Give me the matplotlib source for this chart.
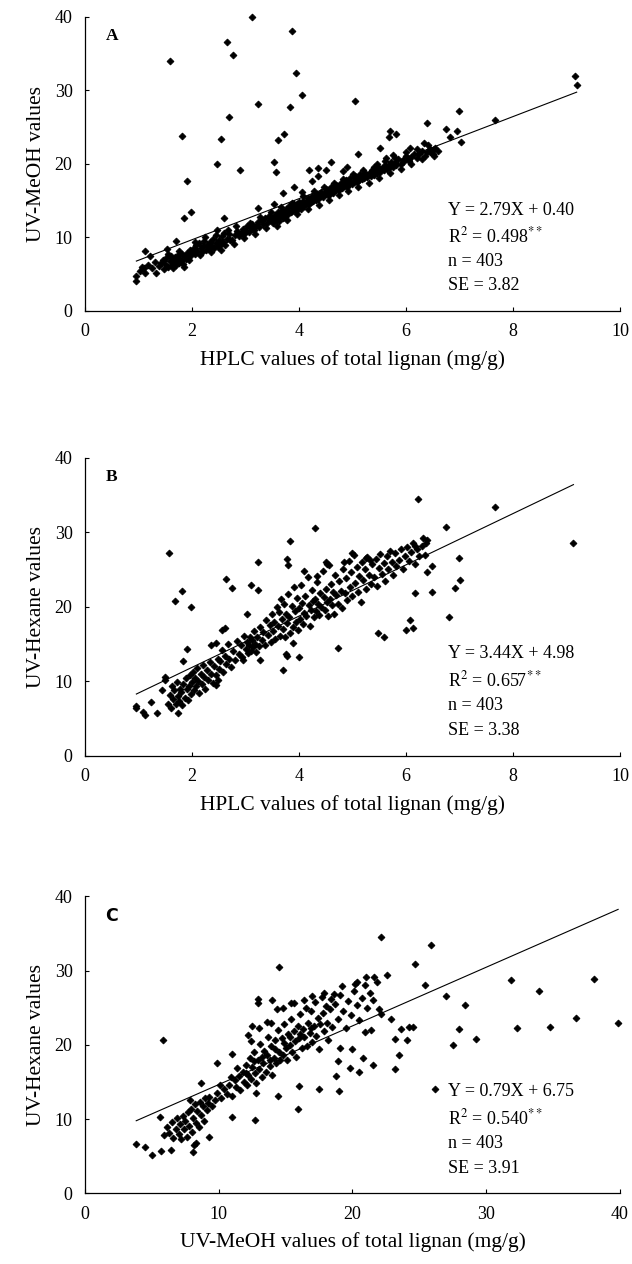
import numpy as np
import matplotlib
matplotlib.use("Agg")
import matplotlib.pyplot as plt

plt.rcParams['font.family'] = ['Liberation Serif', 'DejaVu Serif']
plt.rcParams['mathtext.fontset'] = 'stix'

# panel A: HPLC (x) vs UV-MeOH (y)
A_PTS = [
    (3.12, 39.9), (3.86, 38.0), (2.65, 36.6), (2.76, 34.8), (1.58, 34.0), (9.15, 32.0),
    (9.19, 30.7), (3.94, 32.4), (4.06, 29.3), (3.23, 28.1), (5.04, 28.5), (3.83, 27.7),
    (2.69, 26.3), (6.99, 27.2), (7.66, 26.0), (6.40, 25.5), (1.81, 23.8), (2.54, 23.4),
    (3.60, 23.3), (3.72, 24.1), (5.70, 24.4), (5.82, 24.0), (5.68, 23.6), (6.75, 24.7),
    (6.96, 24.5), (6.82, 23.6), (7.03, 23.0), (5.51, 22.2), (2.46, 20.0), (3.54, 20.2),
    (3.57, 18.9), (2.90, 19.1), (1.91, 17.7), (4.60, 20.2), (5.11, 21.3), (1.99, 13.5),
    (1.85, 12.7), (2.59, 12.6), (3.24, 14.0), (3.90, 16.9), (4.19, 19.1), (4.36, 19.4),
    (4.50, 19.2), (3.70, 16.0), (3.54, 14.6), (1.13, 8.2), (1.22, 7.5), (0.96, 4.7),
    (0.96, 4.1), (1.07, 6.0), (1.12, 5.1), (1.33, 5.1), (1.48, 5.7), (1.42, 6.5),
    (1.53, 8.4), (1.71, 9.5), (2.47, 11.0), (2.68, 11.0), (2.71, 9.6), (6.34, 22.8),
    (6.07, 22.1), (6.44, 21.6), (6.51, 21.9),
    (4.25, 17.6), (4.35, 18.3), (4.05, 16.2), (5.45, 20.0), (5.62, 20.8), (5.75, 21.2),
    (4.83, 19.0), (4.90, 19.5),
    (1.02, 5.4), (1.10, 5.9), (1.18, 6.3), (1.25, 5.8), (1.30, 6.6), (1.38, 6.1),
    (1.45, 6.9), (1.50, 6.4), (1.52, 7.2), (1.55, 6.0), (1.58, 6.8), (1.60, 7.5),
    (1.62, 6.3), (1.64, 7.0), (1.66, 6.6), (1.68, 7.4), (1.70, 6.2), (1.72, 6.9),
    (1.74, 7.6), (1.76, 6.5), (1.78, 7.1), (1.80, 6.8), (1.82, 7.7), (1.84, 6.4),
    (1.86, 7.3), (1.88, 7.0), (1.90, 7.9), (1.93, 7.2), (1.96, 8.3), (1.98, 7.6),
    (2.00, 8.0), (2.03, 8.6), (2.06, 7.8), (2.08, 8.9), (2.10, 8.2), (2.13, 9.3),
    (2.16, 8.5), (2.18, 8.0), (2.20, 8.8), (2.23, 9.5), (2.26, 8.3), (2.28, 9.0),
    (2.31, 8.6), (2.34, 9.4), (2.37, 8.8), (2.40, 9.8), (2.42, 8.5), (2.45, 9.2),
    (2.48, 8.7), (2.50, 9.6), (2.53, 9.0), (2.56, 10.2), (2.58, 9.4), (2.62, 8.9),
    (2.65, 9.8), (2.70, 10.4), (2.75, 9.7), (2.80, 10.3), (2.85, 10.9), (2.88, 10.2),
    (2.92, 10.6), (2.95, 11.2), (2.98, 10.4), (3.00, 10.8), (3.03, 11.5), (3.06, 10.7),
    (3.10, 11.3), (3.13, 11.8), (3.16, 11.0), (3.20, 11.6), (3.23, 12.1), (3.26, 11.4),
    (3.30, 12.3), (3.33, 11.8), (3.36, 12.6), (3.40, 12.0), (3.43, 12.9), (3.46, 12.3),
    (3.50, 12.7), (3.52, 11.9), (3.55, 13.1), (3.58, 12.5), (3.60, 13.4), (3.62, 12.2),
    (3.65, 12.9), (3.68, 13.6), (3.70, 12.7), (3.72, 13.2), (3.75, 13.9), (3.78, 13.0),
    (3.80, 13.6), (3.82, 14.2), (3.85, 13.4), (3.88, 14.0), (3.90, 14.6), (3.92, 13.7),
    (3.95, 14.3), (3.98, 13.9), (4.00, 14.8), (4.02, 14.1), (4.05, 14.5), (4.08, 15.0),
    (4.10, 14.3), (4.13, 14.8), (4.16, 15.3), (4.18, 14.6), (4.21, 15.1), (4.24, 15.6),
    (4.27, 14.9), (4.30, 15.4), (4.33, 15.9), (4.36, 15.2), (4.39, 15.7), (4.42, 16.2),
    (4.45, 15.5), (4.48, 16.0), (4.51, 16.6), (4.54, 15.8), (4.57, 16.3), (4.60, 16.9),
    (4.63, 16.1), (4.66, 16.6), (4.69, 17.1), (4.72, 16.4), (4.75, 16.9), (4.78, 17.4),
    (4.81, 16.7), (4.84, 17.2), (4.87, 17.8), (4.90, 16.9), (4.93, 17.5), (4.96, 18.1),
    (4.99, 17.3), (5.02, 17.7), (5.05, 18.3), (5.08, 17.5), (5.11, 18.0), (5.14, 18.6),
    (5.17, 17.9), (5.20, 18.3), (5.24, 18.8), (5.28, 18.2), (5.32, 18.7), (5.36, 19.2),
    (5.40, 18.5), (5.44, 19.0), (5.48, 19.5), (5.52, 18.9), (5.56, 19.4), (5.60, 19.9),
    (5.64, 19.3), (5.68, 19.8), (5.72, 20.2), (5.76, 19.6), (5.80, 20.1), (5.85, 20.6),
    (5.90, 20.0), (5.95, 20.5), (6.00, 21.0), (6.05, 20.4), (6.10, 20.9), (6.15, 21.4),
    (6.20, 20.8), (6.25, 21.3), (6.30, 21.7), (6.35, 21.1), (6.40, 21.6), (6.45, 22.0),
    (6.50, 21.4), (6.55, 22.1), (6.60, 21.8),
    (3.57, 12.4), (3.64, 13.3), (3.73, 12.9), (3.87, 13.6), (3.96, 14.5), (4.04, 13.9),
    (4.12, 14.6), (4.22, 14.8), (4.31, 15.1), (4.41, 15.6), (4.50, 16.1), (4.58, 15.9),
    (4.67, 16.4), (4.76, 16.6), (4.85, 17.0), (4.94, 17.2), (5.03, 17.5), (5.12, 17.8),
    (5.22, 18.1), (5.34, 18.4), (5.46, 18.8), (5.58, 19.1), (5.70, 19.5), (5.82, 19.8),
    (5.94, 20.2), (6.06, 20.6),
    (1.55, 7.8), (1.65, 5.9), (1.75, 8.1), (1.85, 6.0), (1.95, 6.9), (2.05, 9.4),
    (2.15, 7.6), (2.25, 10.0), (2.35, 8.0), (2.45, 10.3), (2.55, 8.3), (2.60, 10.6),
    (2.78, 9.1), (2.83, 11.5), (2.97, 9.9), (3.08, 12.0), (3.18, 10.5), (3.28, 12.8),
    (3.38, 11.3), (3.48, 13.4), (3.58, 11.6), (3.67, 14.1), (3.77, 12.3), (3.86, 14.7),
    (3.97, 13.2), (4.07, 15.6), (4.17, 13.8), (4.28, 16.3), (4.38, 14.4), (4.47, 16.8),
    (4.56, 15.1), (4.65, 17.4), (4.74, 15.8), (4.83, 18.0), (4.92, 16.3), (5.01, 18.6),
    (5.10, 16.9), (5.20, 19.1), (5.30, 17.4), (5.40, 19.6), (5.50, 18.1), (5.60, 20.4),
    (5.70, 18.8), (5.80, 20.8), (5.90, 19.3), (6.00, 21.6), (6.10, 20.0), (6.20, 22.0),
    (6.30, 20.6), (6.42, 22.5), (6.52, 21.0),
]

# panel B: HPLC (x) vs UV-Hexane (y)
B_PTS = [
    (6.22, 34.5), (7.66, 33.4), (4.29, 30.6), (6.74, 30.7), (3.83, 28.8), (9.13, 28.5),
    (1.57, 27.2), (1.68, 20.8), (1.81, 22.1), (1.99, 20.0), (2.64, 23.7), (2.75, 22.5),
    (3.23, 26.0), (6.17, 28.1), (6.31, 29.2), (6.38, 28.6), (6.99, 26.6), (6.48, 25.5),
    (6.39, 24.6), (7.01, 23.6), (6.92, 22.5), (6.48, 22.0), (6.17, 21.8), (6.81, 18.6),
    (6.07, 18.2), (6.14, 17.1), (6.00, 16.9), (5.48, 16.5), (5.58, 15.9), (4.72, 14.4),
    (3.71, 11.5), (3.75, 13.6), (3.78, 13.4), (4.00, 13.2), (3.27, 12.9), (3.88, 15.1),
    (1.91, 14.3), (1.83, 12.7), (2.93, 13.3), (2.45, 15.1), (2.35, 14.9), (2.62, 17.2),
    (2.56, 16.9), (2.45, 9.5), (2.48, 10.2), (0.96, 6.7), (0.96, 6.35), (1.08, 5.9),
    (1.13, 5.5), (1.24, 7.2), (1.34, 5.7), (1.73, 5.8), (1.49, 10.6), (1.50, 10.2),
    (1.44, 8.8), (3.03, 19.0), (3.11, 22.9), (3.23, 22.2),
    (3.78, 26.4), (3.79, 25.6), (4.09, 24.8), (4.33, 24.1), (4.50, 26.0), (4.53, 25.8),
    (4.84, 26.0), (5.00, 27.2), (5.25, 26.5), (5.32, 26.3),
    (1.55, 7.0), (1.58, 8.2), (1.60, 6.4), (1.62, 9.3), (1.65, 7.6), (1.67, 8.8),
    (1.70, 6.9), (1.72, 9.9), (1.74, 8.0), (1.76, 7.3), (1.78, 9.0), (1.80, 8.5),
    (1.82, 6.8), (1.84, 9.6), (1.86, 7.8), (1.88, 10.4), (1.90, 8.9), (1.92, 7.5),
    (1.94, 9.4), (1.96, 10.8), (1.98, 8.3), (2.00, 9.9), (2.02, 11.3), (2.04, 8.8),
    (2.06, 10.5), (2.08, 9.3), (2.10, 11.8), (2.12, 10.0), (2.14, 8.4), (2.16, 11.0),
    (2.18, 9.6), (2.20, 12.2), (2.22, 10.6), (2.25, 9.0), (2.28, 11.5), (2.30, 10.1),
    (2.33, 12.6), (2.36, 11.0), (2.39, 9.8), (2.42, 12.0), (2.45, 10.8), (2.48, 13.0),
    (2.50, 11.6), (2.53, 12.7), (2.56, 14.2), (2.58, 11.2), (2.61, 13.4), (2.64, 12.3),
    (2.67, 15.0), (2.70, 13.0), (2.73, 11.9), (2.76, 14.1), (2.80, 12.8), (2.84, 15.4),
    (2.88, 13.6), (2.92, 14.8), (2.95, 12.9), (2.98, 16.1), (3.00, 14.3), (3.02, 15.2),
    (3.04, 13.8), (3.06, 14.8), (3.08, 15.9), (3.10, 14.1), (3.12, 15.5), (3.14, 14.6),
    (3.16, 16.7), (3.18, 15.0), (3.20, 13.9), (3.22, 16.0), (3.25, 14.7), (3.28, 17.3),
    (3.30, 15.6), (3.33, 16.6), (3.36, 14.9), (3.39, 18.2), (3.42, 16.2), (3.45, 17.5),
    (3.48, 15.3), (3.50, 19.0), (3.52, 16.8), (3.54, 18.0), (3.56, 15.7), (3.58, 20.0),
    (3.60, 17.4), (3.62, 19.3), (3.64, 16.1), (3.66, 21.0), (3.68, 18.3), (3.70, 17.0),
    (3.72, 20.4), (3.74, 15.9), (3.76, 19.0), (3.78, 17.8), (3.80, 21.7), (3.82, 18.6),
    (3.84, 16.5), (3.86, 20.1), (3.88, 17.3), (3.90, 22.6), (3.92, 19.4), (3.94, 18.0),
    (3.96, 21.2), (3.98, 16.9), (4.00, 19.8), (4.02, 18.4), (4.04, 22.9), (4.06, 20.5),
    (4.08, 17.7), (4.10, 19.1), (4.12, 21.5), (4.14, 18.8), (4.16, 24.0), (4.18, 20.2),
    (4.20, 17.4), (4.22, 19.6), (4.24, 22.2), (4.26, 20.8), (4.28, 18.6), (4.30, 21.0),
    (4.32, 19.4), (4.34, 23.3), (4.36, 20.4), (4.38, 18.9), (4.40, 21.8), (4.42, 20.0),
    (4.44, 24.8), (4.46, 21.3), (4.48, 19.5), (4.50, 22.4), (4.52, 20.6), (4.54, 18.8),
    (4.56, 25.6), (4.58, 21.1), (4.60, 23.0), (4.62, 20.2), (4.64, 22.0), (4.66, 19.0),
    (4.68, 24.3), (4.70, 21.6), (4.72, 20.4), (4.75, 23.5), (4.78, 22.1), (4.80, 19.8),
    (4.83, 25.1), (4.86, 21.9), (4.88, 23.8), (4.90, 20.9), (4.93, 26.2), (4.96, 22.6),
    (4.98, 24.6), (5.00, 21.5), (5.03, 27.0), (5.05, 23.2), (5.08, 25.3), (5.10, 22.0),
    (5.13, 24.1), (5.16, 20.6), (5.18, 26.0), (5.20, 23.6), (5.23, 25.0), (5.26, 22.4),
    (5.28, 26.7), (5.31, 24.3), (5.34, 23.0), (5.37, 25.7), (5.40, 24.0), (5.43, 26.4),
    (5.46, 22.8), (5.49, 25.2), (5.52, 27.1), (5.55, 24.4), (5.58, 25.9), (5.61, 23.4),
    (5.64, 26.8), (5.67, 25.0), (5.70, 27.5), (5.73, 26.0), (5.76, 24.2), (5.79, 27.2),
    (5.82, 25.5), (5.86, 26.3), (5.90, 27.8), (5.94, 25.1), (5.98, 26.8), (6.02, 28.0),
    (6.06, 26.2), (6.10, 27.3), (6.13, 28.5), (6.16, 25.7), (6.20, 27.8), (6.25, 26.8),
    (6.30, 28.2), (6.35, 27.0), (6.40, 28.9),
]

# panel C: UV-MeOH (x) vs UV-Hexane (y)
C_PTS = [
    (22.15, 34.5), (25.86, 33.4), (14.52, 30.5), (24.69, 30.9), (22.58, 29.4), (25.45, 28.0),
    (31.85, 28.7), (38.09, 28.9), (33.98, 27.3), (27.01, 26.6), (28.38, 25.4), (22.91, 23.5),
    (36.72, 23.6), (32.29, 22.3), (34.75, 22.4), (39.86, 23.0), (27.97, 22.1), (29.20, 20.8),
    (27.50, 20.0), (23.60, 22.1), (24.20, 22.4), (24.50, 22.4), (23.20, 20.8), (24.10, 20.6),
    (23.50, 18.6), (23.20, 16.7), (22.10, 24.2), (20.90, 21.7), (21.40, 22.0), (19.10, 19.6),
    (20.00, 19.5), (18.90, 17.8), (20.80, 18.2), (21.50, 17.3), (19.80, 16.9), (20.50, 16.3),
    (18.80, 15.8), (19.00, 13.8), (17.50, 14.1), (16.00, 14.4), (15.90, 11.4), (14.40, 13.1),
    (12.80, 13.5), (12.70, 9.9), (11.00, 10.3), (5.80, 20.6), (9.87, 17.5), (11.00, 18.8),
    (8.70, 14.8), (9.30, 7.6), (3.83, 6.6), (4.48, 6.3), (5.03, 5.2), (5.70, 5.7),
    (6.45, 5.8), (5.60, 10.3), (8.07, 5.6), (8.15, 6.5), (8.28, 6.8), (7.87, 12.6),
    (26.20, 14.0), (13.97, 26.1), (12.93, 26.2), (12.96, 25.6), (14.33, 24.8), (13.60, 23.1),
    (15.40, 25.6), (12.50, 22.6),
    (5.9, 7.9), (6.1, 9.0), (6.3, 8.1), (6.5, 9.6), (6.6, 7.5), (6.8, 8.7),
    (6.9, 10.1), (7.0, 8.0), (7.1, 9.3), (7.2, 7.3), (7.3, 10.4), (7.4, 8.6),
    (7.5, 9.8), (7.6, 7.6), (7.7, 10.9), (7.8, 9.1), (7.9, 11.4), (8.0, 8.3),
    (8.1, 10.2), (8.2, 12.0), (8.3, 9.5), (8.4, 11.1), (8.5, 8.9), (8.6, 12.3),
    (8.7, 10.6), (8.8, 11.7), (8.9, 9.8), (9.0, 12.8), (9.1, 11.2), (9.2, 12.1),
    (9.3, 13.0), (9.5, 11.8), (9.7, 12.6), (9.9, 13.5), (10.2, 12.9), (10.4, 14.0),
    (10.6, 13.4), (10.8, 14.6), (11.0, 13.1), (11.2, 15.2), (11.3, 14.3), (11.5, 15.8),
    (11.6, 13.9), (11.8, 16.4), (11.9, 15.0), (12.0, 17.3), (12.1, 14.6), (12.2, 16.0),
    (12.3, 18.2), (12.4, 15.4), (12.5, 17.0), (12.6, 19.0), (12.7, 16.2), (12.8, 14.9),
    (12.9, 18.0), (13.0, 16.8), (13.1, 20.1), (13.2, 15.7), (13.3, 17.6), (13.4, 19.2),
    (13.5, 16.4), (13.6, 18.6), (13.7, 21.0), (13.8, 17.2), (13.9, 19.8), (14.0, 16.0),
    (14.1, 18.2), (14.2, 20.6), (14.3, 17.5), (14.4, 22.0), (14.5, 19.1), (14.6, 17.9),
    (14.7, 20.9), (14.8, 18.6), (14.9, 22.8), (15.0, 19.6), (15.1, 18.0), (15.2, 21.4),
    (15.3, 20.0), (15.4, 23.5), (15.5, 19.0), (15.6, 21.9), (15.7, 20.5), (15.8, 18.4),
    (15.9, 22.6), (16.0, 20.9), (16.1, 24.2), (16.2, 19.6), (16.3, 22.1), (16.4, 21.0),
    (16.5, 25.0), (16.6, 19.9), (16.7, 23.0), (16.8, 21.6), (16.9, 24.5), (17.0, 20.4),
    (17.1, 22.5), (17.2, 25.8), (17.3, 21.2), (17.4, 23.6), (17.5, 19.5), (17.6, 22.8),
    (17.7, 26.5), (17.8, 24.3), (17.9, 21.8), (18.0, 25.2), (18.1, 23.0), (18.2, 20.7),
    (18.3, 24.8), (18.4, 26.2), (18.5, 22.4), (18.7, 25.5), (18.9, 23.5), (19.1, 26.7),
    (19.3, 24.6), (19.5, 22.2), (19.7, 25.9), (19.9, 24.0), (20.1, 27.2), (20.3, 25.4),
    (20.5, 23.4), (20.7, 26.3), (20.9, 28.0), (21.1, 25.0), (21.3, 27.0), (21.5, 26.0),
    (21.8, 28.4), (22.0, 24.8), (12.4, 20.5), (12.2, 21.3), (13.0, 22.2), (13.9, 23.0),
    (14.8, 25.0), (15.6, 25.6), (16.4, 26.0), (17.0, 26.6), (17.9, 27.0), (18.6, 26.8),
    (19.2, 27.9), (20.3, 28.5), (20.2, 28.2), (21.0, 29.1), (21.6, 29.2),
    (12.6, 17.8), (13.2, 18.4), (13.8, 18.0), (14.2, 19.4), (14.9, 20.3), (15.3, 21.0),
    (16.1, 21.5), (16.9, 22.2), (12.0, 16.2), (11.4, 16.9), (10.9, 15.6), (10.1, 14.6),
]

A_FIT = (2.79, 4.10)
B_FIT = (3.44, 4.98)
C_FIT = (0.79, 6.75)

A_STATS = ["Y = 2.79X + 0.40", r"R$^2$ = 0.498$^{**}$", "n = 403", "SE = 3.82"]
B_STATS = ["Y = 3.44X + 4.98", r"R$^2$ = 0.657$^{**}$", "n = 403", "SE = 3.38"]
C_STATS = ["Y = 0.79X + 6.75", r"R$^2$ = 0.540$^{**}$", "n = 403", "SE = 3.91"]

HPLC_LABEL = "HPLC values of total lignan (mg/g)"
MEOH_LABEL = "UV-MeOH values of total lignan (mg/g)"


def draw_panel(ax, pts, fit, xmax, xstep, letter, stats, xlabel, ylabel, letter_family):
    xs = np.array([p[0] for p in pts])
    ys = np.array([p[1] for p in pts])
    ax.plot(xs, ys, 'D', color='black', markersize=3.5, markeredgewidth=0.6,
            linestyle='none', clip_on=False)
    lx = np.array([xs.min(), xs.max()])
    ax.plot(lx, fit[0] * lx + fit[1], color='black', lw=0.8)

    ax.set_xlim(0, xmax)
    ax.set_ylim(0, 40)
    ax.set_xticks(np.arange(0, xmax + 0.01, xstep))
    ax.set_yticks([0, 10, 20, 30, 40])
    for s in ['top', 'right']:
        ax.spines[s].set_visible(False)
    for s in ['left', 'bottom']:
        ax.spines[s].set_linewidth(0.9)
    ax.tick_params(direction='in', length=3, width=0.8, labelsize=13)
    ax.tick_params(axis='x', pad=9)
    ax.tick_params(axis='y', pad=9)
    ax.set_xlabel(xlabel, fontsize=15.5, labelpad=7)
    ax.set_ylabel(ylabel, fontsize=15.5, labelpad=6)

    ax.text(0.05, 0.935, letter, transform=ax.transAxes, fontsize=12.5,
            fontweight='bold', family=letter_family, ha='center', va='center')
    for ty, line in zip([0.343, 0.253, 0.168, 0.085], stats):
        ax.text(0.679, ty, line, transform=ax.transAxes, fontsize=13,
                ha='left', va='center')


fig = plt.figure(figsize=(6.32, 12.64), dpi=100)
ax_a = fig.add_axes([0.1345, 0.7540, 0.8465, 0.2328])
ax_b = fig.add_axes([0.1345, 0.4021, 0.8465, 0.2358])
ax_c = fig.add_axes([0.1345, 0.0559, 0.8465, 0.2350])

draw_panel(ax_a, A_PTS, A_FIT, 10, 2, "A", A_STATS, HPLC_LABEL, "UV-MeOH values",
           ['Liberation Serif'])
draw_panel(ax_b, B_PTS, B_FIT, 10, 2, "B", B_STATS, HPLC_LABEL, "UV-Hexane values",
           ['Liberation Serif'])
draw_panel(ax_c, C_PTS, C_FIT, 40, 10, "C", C_STATS, MEOH_LABEL, "UV-Hexane values",
           ['DejaVu Sans'])

fig.savefig("out.png", dpi=100)
